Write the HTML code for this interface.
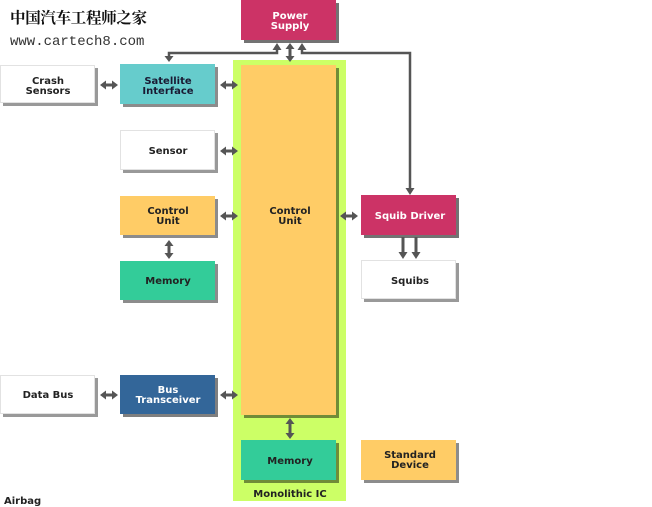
<!DOCTYPE html>
<html><head><meta charset="utf-8"><style>
html,body{margin:0;padding:0;background:#fff;}
svg{display:block;}
.t{font-family:"DejaVu Sans","Liberation Sans",sans-serif;font-weight:bold;font-size:10px;text-anchor:middle;}
</style></head><body>
<svg width="652" height="507" viewBox="0 0 652 507" xmlns="http://www.w3.org/2000/svg">
<text x="10" y="23" font-family="'Noto Serif CJK SC','Noto Sans CJK SC',serif" font-weight="bold" font-size="15.5" fill="#111" letter-spacing="-0.3">中国汽车工程师之家</text>
<text x="10" y="45" font-family="'Liberation Mono',monospace" font-size="14" fill="#333">www.cartech8.com</text>

<!-- green panel -->
<rect x="233" y="60" width="113" height="441" fill="#ccff66"/>
<!-- big control unit -->
<rect x="244" y="68" width="95" height="350" fill="rgba(0,0,0,0.45)"/>
<rect x="241" y="65" width="95" height="350" fill="#ffcc66"/>
<text class="t" x="290" y="214" fill="#222">Control</text>
<text class="t" x="290" y="224" fill="#222">Unit</text>
<!-- inner memory -->
<rect x="244" y="443" width="95" height="40" fill="rgba(0,0,0,0.45)"/>
<rect x="241" y="440" width="95" height="40" fill="#33cc99"/>
<text class="t" x="290" y="464" fill="#222">Memory</text>
<text class="t" x="290" y="497" fill="#222">Monolithic IC</text>

<!-- Power supply -->
<rect x="244" y="3" width="95" height="40" fill="rgba(0,0,0,0.55)"/>
<rect x="241" y="0" width="95" height="40" fill="#cc3366"/>
<text class="t" x="290" y="19" fill="#fff">Power</text>
<text class="t" x="290" y="29" fill="#fff">Supply</text>

<!-- Crash sensors -->
<rect x="3" y="68" width="95" height="38" fill="rgba(0,0,0,0.4)"/>
<rect x="0.5" y="65.5" width="94" height="37" fill="#fff" stroke="#e2e2e2"/>
<text class="t" x="48" y="84" fill="#222">Crash</text>
<text class="t" x="48" y="94" fill="#222">Sensors</text>
<!-- Satellite -->
<rect x="123" y="67" width="95" height="40" fill="rgba(0,0,0,0.45)"/>
<rect x="120" y="64" width="95" height="40" fill="#66cccc"/>
<text class="t" x="168" y="84" fill="#1a1a33">Satellite</text>
<text class="t" x="168" y="94" fill="#1a1a33">Interface</text>
<!-- Sensor -->
<rect x="123" y="133" width="95" height="40" fill="rgba(0,0,0,0.4)"/>
<rect x="120.5" y="130.5" width="94" height="39" fill="#fff" stroke="#e2e2e2"/>
<text class="t" x="168" y="154" fill="#222">Sensor</text>
<!-- Control unit small -->
<rect x="123" y="199" width="95" height="39" fill="rgba(0,0,0,0.45)"/>
<rect x="120" y="196" width="95" height="39" fill="#ffcc66"/>
<text class="t" x="168" y="214" fill="#222">Control</text>
<text class="t" x="168" y="224" fill="#222">Unit</text>
<!-- Memory small -->
<rect x="123" y="264" width="95" height="39" fill="rgba(0,0,0,0.45)"/>
<rect x="120" y="261" width="95" height="39" fill="#33cc99"/>
<text class="t" x="168" y="284" fill="#222">Memory</text>
<!-- Data bus -->
<rect x="3" y="378" width="95" height="39" fill="rgba(0,0,0,0.4)"/>
<rect x="0.5" y="375.5" width="94" height="38" fill="#fff" stroke="#e2e2e2"/>
<text class="t" x="48" y="398" fill="#222">Data Bus</text>
<!-- Bus transceiver -->
<rect x="123" y="378" width="95" height="39" fill="rgba(0,0,0,0.5)"/>
<rect x="120" y="375" width="95" height="39" fill="#336699"/>
<text class="t" x="168" y="393" fill="#fff">Bus</text>
<text class="t" x="168" y="403" fill="#fff">Transceiver</text>
<!-- Squib driver -->
<rect x="364" y="198" width="95" height="40" fill="rgba(0,0,0,0.55)"/>
<rect x="361" y="195" width="95" height="40" fill="#cc3366"/>
<text class="t" x="410" y="219" fill="#fff">Squib Driver</text>
<!-- Squibs -->
<rect x="364" y="263" width="95" height="39" fill="rgba(0,0,0,0.4)"/>
<rect x="361.5" y="260.5" width="94" height="38" fill="#fff" stroke="#e2e2e2"/>
<text class="t" x="410" y="284" fill="#222">Squibs</text>
<!-- Standard device -->
<rect x="364" y="443" width="95" height="40" fill="rgba(0,0,0,0.45)"/>
<rect x="361" y="440" width="95" height="40" fill="#ffcc66"/>
<text class="t" x="410" y="458" fill="#222">Standard</text>
<text class="t" x="410" y="468" fill="#222">Device</text>

<text x="4" y="504" font-family="'DejaVu Sans','Liberation Sans',sans-serif" font-weight="bold" font-size="10" fill="#222">Airbag</text>

<g fill="#555">
<polygon points="100,85 106,80.5 106,83.5 112,83.5 112,80.5 118,85 112,89.5 112,86.5 106,86.5 106,89.5"/>
<polygon points="220,85 226,80.5 226,83.5 232,83.5 232,80.5 238,85 232,89.5 232,86.5 226,86.5 226,89.5"/>
<polygon points="220,151 226,146.5 226,149.5 232,149.5 232,146.5 238,151 232,155.5 232,152.5 226,152.5 226,155.5"/>
<polygon points="220,216 226,211.5 226,214.5 232,214.5 232,211.5 238,216 232,220.5 232,217.5 226,217.5 226,220.5"/>
<polygon points="100,395 106,390.5 106,393.5 112,393.5 112,390.5 118,395 112,399.5 112,396.5 106,396.5 106,399.5"/>
<polygon points="220,395 226,390.5 226,393.5 232,393.5 232,390.5 238,395 232,399.5 232,396.5 226,396.5 226,399.5"/>
<polygon points="340,216 346,211.5 346,214.5 352,214.5 352,211.5 358,216 352,220.5 352,217.5 346,217.5 346,220.5"/>
<polygon points="169,240 173.5,246 170.5,246 170.5,253 173.5,253 169,259 164.5,253 167.5,253 167.5,246 164.5,246"/>
<polygon points="290,418 294.5,424 291.5,424 291.5,433 294.5,433 290,439 285.5,433 288.5,433 288.5,424 285.5,424"/>
<polygon points="290,43 294.5,49 291.5,49 291.5,56 294.5,56 290,62 285.5,56 288.5,56 288.5,49 285.5,49"/>
<polygon points="164.5,56 173.5,56 169,62"/>
<polygon points="272.5,50 281.5,50 277,43"/>
<polygon points="297.5,50 306.5,50 302,43"/>
<polygon points="405.5,188 414.5,188 410,195"/>
<polygon points="398.5,252 407.5,252 403,259"/>
<polygon points="411.5,252 420.5,252 416,259"/>
</g>
<g stroke="#555" stroke-width="2.5" fill="none" stroke-linejoin="miter">
<polyline points="169,57 169,53 277,53 277,49"/>
<polyline points="302,49 302,53 410,53 410,189"/>
<line x1="403" y1="237" x2="403" y2="253" stroke-width="3"/>
<line x1="416" y1="237" x2="416" y2="253" stroke-width="3"/>
</g>
</svg>
</body></html>
